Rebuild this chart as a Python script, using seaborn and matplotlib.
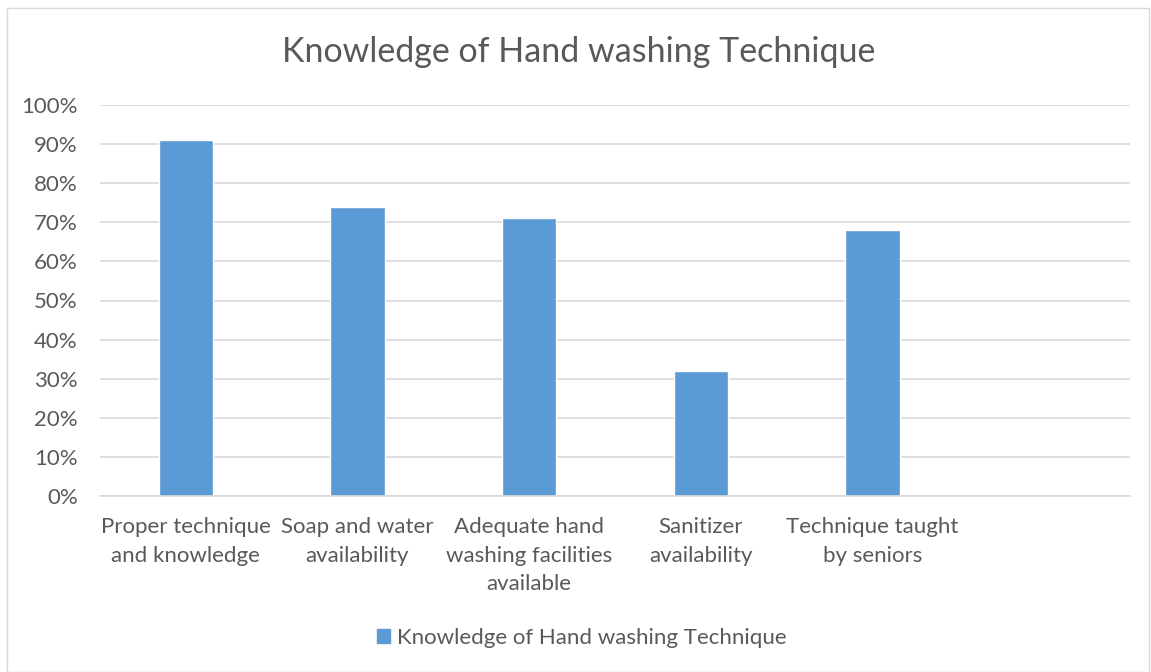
import matplotlib
matplotlib.use("Agg")
from matplotlib import pyplot as plt
import matplotlib.patches as mpatches
from matplotlib.ticker import PercentFormatter
import seaborn as sb

# data
categories = ["Proper technique\nand knowledge", "Soap and water\navailability",
              "Adequate hand\nwashing facilities\navailable", "Sanitizer\navailability",
              "Technique taught\nby seniors"]
values = [91, 74, 71, 32, 68]
slot_order = categories + [" "]  # chart keeps an empty 6th slot
series_name = "Knowledge of Hand washing Technique"

bar_color = "#5B9BD5"
text_color = "#595959"
grid_color = "#D9D9D9"

sb.set_style("white")
plt.rcParams["font.family"] = ["Lato", "DejaVu Sans"]

fig = plt.figure(figsize=(11.51, 6.72), dpi=100)
ax = fig.add_axes([100/1151, 1 - 496/672, 1030/1151, 391/672])

sb.barplot(x=categories, y=values, order=slot_order, color=bar_color,
           width=0.316, saturation=1, ax=ax)

ax.set_ylim(0, 100)
ax.set_xlim(-0.5, 5.5)
ax.set_yticks(range(0, 101, 10))
ax.yaxis.set_major_formatter(PercentFormatter(decimals=0))
ax.grid(axis="y", color=grid_color, linewidth=1.2)
ax.set_axisbelow(True)
for s in ["top", "right", "left"]:
    ax.spines[s].set_visible(False)
ax.spines["bottom"].set_color(grid_color)
ax.spines["bottom"].set_linewidth(1.2)
ax.tick_params(axis="both", length=0, labelsize=16, colors=text_color)
ax.tick_params(axis="x", pad=15)
ax.tick_params(axis="y", pad=16)
for lab in ax.get_xticklabels():
    lab.set_linespacing(1.55)
ax.set_xlabel("")
ax.set_ylabel("")

fig.text(0.5 + 3/1151, 1 - 52/672, series_name, ha="center", va="center",
         fontsize=24.5, color=text_color)

handle = mpatches.Patch(color=bar_color, label=series_name)
fig.legend(handles=[handle], loc="center", bbox_to_anchor=(0.5 + 6/1151, 1 - 638/672),
           frameon=False, fontsize=16, labelcolor=text_color,
           handlelength=0.6, handleheight=0.6, handletextpad=0.3)

# chart area border
fig.patches.append(mpatches.Rectangle((7/1151, 0), 1 - 7/1151 - 2/1151, 1 - 8/672,
                                      transform=fig.transFigure, fill=False,
                                      edgecolor=grid_color, linewidth=1))

fig.savefig("out.png", dpi=100)
